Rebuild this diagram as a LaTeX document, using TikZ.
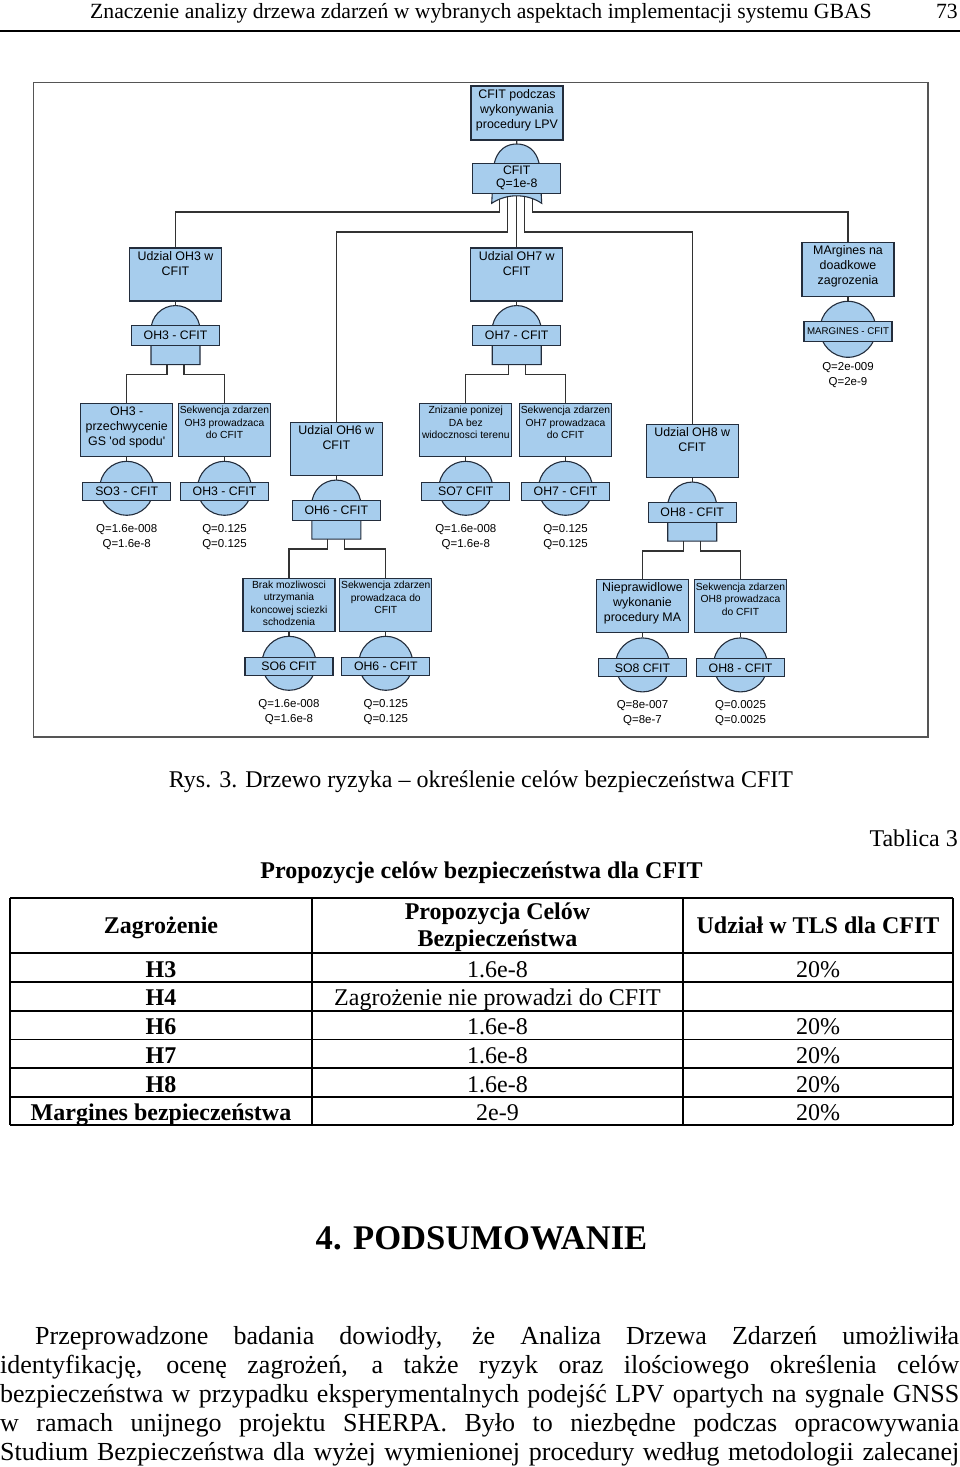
\documentclass[tikz,border=0pt]{standalone}
\usepackage{fontspec}
\setmainfont{Liberation Serif}
\newfontfamily\ftafont{Liberation Sans}
\usetikzlibrary{positioning,calc}
\definecolor{evfill}{RGB}{167,205,237}
\definecolor{evline}{RGB}{35,45,60}
\definecolor{wirecol}{RGB}{50,50,50}
\definecolor{framecol}{RGB}{85,85,85}
\newcommand{\evtxt}[1]{\parbox[c][50pt][t]{91pt}{\centering\strut#1}}
% gate with a flat bottom: label node #1, under event box #2
\newcommand{\andgate}[3]{%
  \coordinate[below=34pt of #2] (#1-c);
  \draw[gatebody] ($(#1-c)+(-24.5,29)$) -- ($(#1-c)+(-24.5,-5.5)$)
    arc[start angle=180, end angle=360, radius=24.5] -- ($(#1-c)+(24.5,29)$) -- cycle;
  \draw[wire] (#2) -- ($(#1-c)+(0,-30)$);
  \node[gatelab] (#1) at (#1-c) {#3};
  \coordinate (#1-l) at ($(#1-c)+(-8.5,29)$);
  \coordinate (#1-r) at ($(#1-c)+(8.5,29)$);
}
% basic event circle #1 under event box #2
\newcommand{\basicev}[5]{%
  \node[bevent, below=4pt of #2] (#1) {};
  \draw[wire] (#2) -- (#1);
  \node[belab] (#1-lab) at ($(#1)+(0,3)$) {#3};
  \node[qtxt, below=8pt of #1] (#1-q) {#4\\#5};
}
\tikzset{
  evbox/.style={draw=evline, fill=evfill, line width=1.1, minimum width=92, minimum height=53, inner sep=0, font=\ftafont\fontsize{12.4}{15}\selectfont},
  evsmall/.style={evbox, font=\ftafont\fontsize{10.3}{12.6}\selectfont},
  gatebody/.style={draw=evline, fill=evfill, line width=1.1},
  gatelab/.style={draw=evline, fill=evfill, line width=1.1, minimum width=88, minimum height=20, inner sep=0, font=\ftafont\fontsize{12.3}{13}\selectfont},
  bevent/.style={circle, draw=evline, fill=evfill, line width=1.1, minimum size=54, inner sep=0},
  belab/.style={gatelab, minimum height=18},
  qtxt/.style={font=\ftafont\fontsize{11.5}{15}\selectfont, align=center, inner sep=0},
  wire/.style={draw=wirecol, line width=1.2},
  tabrule/.style={line width=1.5},
  cell/.style={anchor=base, inner sep=0, font=\fontsize{24}{28}\selectfont},
  cellb/.style={cell, font=\bfseries\fontsize{24}{28}\selectfont},
  partxt/.style={anchor=base west, inner sep=0, font=\fontsize{26}{29}\selectfont},
}

\begin{document}
\begin{tikzpicture}[x=1pt,y=-1pt]
\useasboundingbox (0,0) rectangle (960,1467);

% running head
\node[anchor=base west, inner sep=0, font=\fontsize{21.7}{26}\selectfont] (runhead) at (90,18) {Znaczenie analizy drzewa zdarzeń w wybranych aspektach implementacji systemu GBAS};
\node[anchor=base east, inner sep=0, font=\fontsize{21.7}{26}\selectfont] (pageno) at (958,18) {73};
\draw[line width=2] (0,31) -- (960,31);

% fault tree
\draw[framecol, line width=1.5] (33.5,82.5) rectangle (928,737);

\node[evbox, minimum height=54] (top) at (517,113) {\evtxt{CFIT podczas\\wykonywania\\procedury LPV}};
\coordinate (gt-c) at (516.7,178.3);
\begin{scope}[shift={(gt-c)}]
  \draw[gatebody] (-25,25) -- (-23,-12) .. controls (-20,-30) and (-9,-34.3) .. (0,-34.3)
    .. controls (9,-34.3) and (20,-30) .. (23,-12) -- (25,25)
    .. controls (10,15) and (-10,15) .. (-25,25) -- cycle;
  \coordinate (gt-1) at (-17,20.8);
  \coordinate (gt-2) at (-9,18.4);
  \coordinate (gt-3) at (0,17.5);
  \coordinate (gt-4) at (8,18.3);
  \coordinate (gt-5) at (16,20.5);
\end{scope}
\draw[wire] (top) -- ($(gt-c)+(0,-34.3)$);
\node[gatelab, minimum height=30, align=center] (gtop) at (gt-c) {CFIT\\Q=1e-8};

\node[evbox] (u-oh3) at (175.5,274.5) {\evtxt{Udzial OH3 w\\CFIT}};
\node[evbox] (u-oh7) at (516.7,274.5) {\evtxt{Udzial OH7 w\\CFIT}};
\node[evbox, minimum height=54] (marg) at (848,269.2) {\evtxt{MArgines na\\doadkowe\\zagrozenia}};
\andgate{g-oh3}{u-oh3}{OH3 - CFIT}
\andgate{g-oh7}{u-oh7}{OH7 - CFIT}

\node[bevent, minimum size=56, below=4pt of marg] (mrg) {};
\draw[wire] (marg) -- (mrg);
\node[belab, minimum height=20, font=\ftafont\fontsize{9.7}{11}\selectfont] (mrg-lab) at ($(mrg)+(0,2)$) {MARGINES - CFIT};
\node[qtxt, below=4pt of mrg] (mrg-q) {Q=2e-009\\Q=2e-9};

\node[evbox] (e-so3) at (126.7,429.7) {\evtxt{OH3 -\\przechwycenie\\GS 'od spodu'}};
\node[evsmall] (e-oh3s) at (224.5,429.7) {\evtxt{Sekwencja zdarzen\\OH3 prowadzaca\\do CFIT}};
\node[evbox] (u-oh6) at (336.3,449) {\evtxt{Udzial OH6 w\\CFIT}};
\node[evsmall] (e-so7) at (465.8,429.7) {\evtxt{Znizanie ponizej\\DA bez\\widocznosci terenu}};
\node[evsmall] (e-oh7s) at (565.5,429.7) {\evtxt{Sekwencja zdarzen\\OH7 prowadzaca\\do CFIT}};
\node[evbox] (u-oh8) at (692.2,451) {\evtxt{Udzial OH8 w\\CFIT}};
\andgate{g-oh6}{u-oh6}{OH6 - CFIT}
\andgate{g-oh8}{u-oh8}{OH8 - CFIT}

\node[evsmall, font=\ftafont\fontsize{10.3}{12.4}\selectfont] (e-so6) at (289,604.7) {\evtxt{Brak mozliwosci\\utrzymania\\koncowej sciezki\\schodzenia}};
\node[evsmall] (e-oh6s) at (385.8,604.7) {\evtxt{Sekwencja zdarzen\\prowadzaca do\\CFIT}};
\node[evbox] (e-so8) at (642.5,606.3) {\evtxt{Nieprawidlowe\\wykonanie\\procedury MA}};
\node[evsmall] (e-oh8s) at (740.5,606.3) {\evtxt{Sekwencja zdarzen\\OH8 prowadzaca\\do CFIT}};

\basicev{so3}{e-so3}{SO3 - CFIT}{Q=1.6e-008}{Q=1.6e-8}
\basicev{oh3c}{e-oh3s}{OH3 - CFIT}{Q=0.125}{Q=0.125}
\basicev{so7}{e-so7}{SO7 CFIT}{Q=1.6e-008}{Q=1.6e-8}
\basicev{oh7c}{e-oh7s}{OH7 - CFIT}{Q=0.125}{Q=0.125}
\basicev{so6}{e-so6}{SO6 CFIT}{Q=1.6e-008}{Q=1.6e-8}
\basicev{oh6c}{e-oh6s}{OH6 - CFIT}{Q=0.125}{Q=0.125}
\basicev{so8}{e-so8}{SO8 CFIT}{Q=8e-007}{Q=8e-7}
\basicev{oh8c}{e-oh8s}{OH8 - CFIT}{Q=0.0025}{Q=0.0025}

% connectors
\draw[wire] (gt-1) -- (gt-1 |- 0,212) -| (u-oh3);
\draw[wire] (gt-2) -- (gt-2 |- 0,232) -| (u-oh6);
\draw[wire] (gt-3) -- (gt-3 |- u-oh7.north);
\draw[wire] (gt-4) -- (gt-4 |- 0,232) -| (u-oh8);
\draw[wire] (gt-5) -- (gt-5 |- 0,212) -| (marg);
\draw[wire] (g-oh3-l) -- ++(0,10) -| (e-so3);
\draw[wire] (g-oh3-r) -- ++(0,10) -| (e-oh3s);
\draw[wire] (g-oh7-l) -- ++(0,10) -| (e-so7);
\draw[wire] (g-oh7-r) -- ++(0,10) -| (e-oh7s);
\draw[wire] (g-oh6-l) -- ++(0,10) -| (e-so6);
\draw[wire] (g-oh6-r) -- ++(0,10) -| (e-oh6s);
\draw[wire] (g-oh8-l) -- ++(0,10) -| (e-so8);
\draw[wire] (g-oh8-r) -- ++(0,10) -| (e-oh8s);

\node[anchor=base, inner sep=0, font=\fontsize{24}{28}\selectfont] (caption) at (481,787) {Rys. 3. Drzewo ryzyka – określenie celów bezpieczeństwa CFIT};

% table
\node[cell, anchor=base east] (tabno) at (958,846) {Tablica 3};
\node[cellb] (tabtitle) at (481.5,878) {Propozycje celów bezpieczeństwa dla CFIT};
\foreach \y in {898,953,982,1011,1039.5,1068,1097,1125}
  \draw[tabrule] (10,\y) -- (953,\y);
\foreach \x in {10,312,683,953}
  \draw[tabrule] (\x,898) -- (\x,1125);
\node[cellb] (hd-zag) at (161,933) {Zagrożenie};
\node[cellb] (hd-prop) at (497.5,919) {Propozycja Celów};
\node[cellb] (hd-bezp) at (497.5,946) {Bezpieczeństwa};
\node[cellb] (hd-tls) at (818,933) {Udział w TLS dla CFIT};
\foreach \i/\h/\p/\t/\yb in {3/H3/1.6e-8/20\%/977, 4/H4/Zagrożenie nie prowadzi do CFIT//1005,
    6/H6/1.6e-8/20\%/1034, 7/H7/1.6e-8/20\%/1063, 8/H8/1.6e-8/20\%/1092,
    9/Margines bezpieczeństwa/2e-9/20\%/1120}{
  \node[cellb] (row\i-h) at (161,\yb) {\h};
  \node[cell] (row\i-p) at (497.5,\yb) {\p};
  \node[cell] (row\i-t) at (818,\yb) {\t};
}

% section
\node[anchor=base, inner sep=0, font=\bfseries\fontsize{34.6}{40}\selectfont] (sec) at (481.5,1249) {4. PODSUMOWANIE};
\node[partxt] (par1) at (35,1344) {\makebox[924pt][s]{Przeprowadzone badania dowiodły, że Analiza Drzewa Zdarzeń umożliwiła}};
\node[partxt] (par2) at (0,1373) {\makebox[959pt][s]{identyfikację, ocenę zagrożeń, a także ryzyk oraz ilościowego określenia celów}};
\node[partxt] (par3) at (0,1402) {\makebox[959pt][s]{bezpieczeństwa w przypadku eksperymentalnych podejść LPV opartych na sygnale GNSS}};
\node[partxt] (par4) at (0,1431) {\makebox[959pt][s]{w ramach unijnego projektu SHERPA. Było to niezbędne podczas opracowywania}};
\node[partxt] (par5) at (0,1460) {\makebox[959pt][s]{Studium Bezpieczeństwa dla wyżej wymienionej procedury według metodologii zalecanej}};
\end{tikzpicture}
\end{document}
